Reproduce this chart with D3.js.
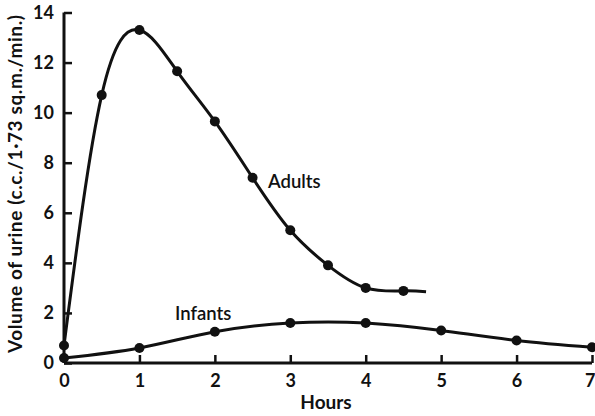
<!DOCTYPE html>
<html>
<head>
<meta charset="utf-8">
<script src="https://cdn.jsdelivr.net/npm/d3@7"></script>
<style>
  body { margin: 0; background: #fff; }
  svg { display: block; }
  text { font-family: Lato, "Open Sans", sans-serif; fill: #111; }
</style>
</head>
<body>
<div id="chart"></div>
<script>
// Adults: measured points, plus where the drawn curve stops
const adultHours = [0, 0.5, 1, 1.5, 2, 2.5, 3, 3.5, 4, 4.5]
const adultVolume = [0.7, 10.7, 13.3, 11.65, 9.65, 7.4, 5.3, 3.9, 3.0, 2.88]
const adultTailHour = 4.8
const adultTailVolume = 2.85

// Infants
const infantHours = [0, 1, 2, 3, 4, 5, 6, 7]
const infantVolume = [0.2, 0.6, 1.25, 1.6, 1.6, 1.3, 0.9, 0.63]

const xTicks = [0, 1, 2, 3, 4, 5, 6, 7]
const yTicks = [0, 2, 4, 6, 8, 10, 12, 14]

const width = 595
const height = 416
const margin = {top: 12.5, right: 3, bottom: 53, left: 64}

const svg = d3.select('#chart').append('svg')
    .attr('width', width)
    .attr('height', height)

const x = d3.scaleLinear()
    .domain([0, 7])
    .range([margin.left, width - margin.right])

const y = d3.scaleLinear()
    .domain([0, 14])
    .range([height - margin.bottom, margin.top])

// Axes - ticks point inward, as in the original
const xAxis = d3.axisBottom(x).tickValues(xTicks).tickSize(-8).tickPadding(11).tickFormat(d3.format('d'))
const yAxis = d3.axisLeft(y).tickValues(yTicks).tickSize(-8).tickPadding(10).tickFormat(d3.format('d'))

const gx = svg.append('g')
    .attr('transform', `translate(0,${y(0)})`)
    .call(xAxis)

const gy = svg.append('g')
    .attr('transform', `translate(${x(0)},0)`)
    .call(yAxis)

for (const g of [gx, gy]) {
    g.select('.domain').attr('stroke', '#111').attr('stroke-width', 3)
    g.selectAll('.tick line').attr('stroke', '#111').attr('stroke-width', 2.5)
    g.selectAll('.tick text')
        .attr('font-size', 18)
        .attr('font-weight', 700)
        .attr('font-family', 'Lato, sans-serif')
        .attr('fill', '#111')
}
gy.select('.domain').attr('d', `M0,${y(0)}V${y(14)}`)
gx.select('.domain').attr('d', `M${x(0)},0H${x(7)}`)
// last label sits against the edge
gx.selectAll('.tick text').filter(d => d === 7).attr('text-anchor', 'end').attr('dx', 3)

// Axis titles
svg.append('text')
    .attr('x', 326)
    .attr('y', 409)
    .attr('text-anchor', 'middle')
    .attr('font-size', 19)
    .attr('font-weight', 700)
    .text('Hours')

svg.append('text')
    .attr('transform', `translate(22,${184}) rotate(-90)`)
    .attr('text-anchor', 'middle')
    .attr('font-size', 19)
    .attr('font-weight', 700)
    .attr('textLength', 338)
    .attr('lengthAdjust', 'spacing')
    .text('Volume of urine (c.c./1·73 sq.m./min.)')

// Curves
const line = d3.line()
    .x(d => x(d[0]))
    .y(d => y(d[1]))
    .curve(d3.curveNatural)

const adultCurve = d3.zip(adultHours, adultVolume).concat([[adultTailHour, adultTailVolume]])
const infantCurve = d3.zip(infantHours, infantVolume)

svg.append('path')
    .attr('d', line(adultCurve))
    .attr('fill', 'none')
    .attr('stroke', '#111')
    .attr('stroke-width', 3)

svg.append('path')
    .attr('d', line(infantCurve))
    .attr('fill', 'none')
    .attr('stroke', '#111')
    .attr('stroke-width', 3)

// Points
svg.append('g').selectAll('circle')
    .data(d3.zip(adultHours, adultVolume).concat(infantCurve))
    .join('circle')
    .attr('cx', d => x(d[0]))
    .attr('cy', d => y(d[1]))
    .attr('r', 5)
    .attr('fill', '#111')

// Series labels
svg.append('text')
    .attr('x', 268)
    .attr('y', 188)
    .attr('font-size', 18.5)
    .attr('font-weight', 600)
    .text('Adults')

svg.append('text')
    .attr('x', 175)
    .attr('y', 320)
    .attr('font-size', 18.5)
    .attr('font-weight', 600)
    .text('Infants')
</script>
</body>
</html>
